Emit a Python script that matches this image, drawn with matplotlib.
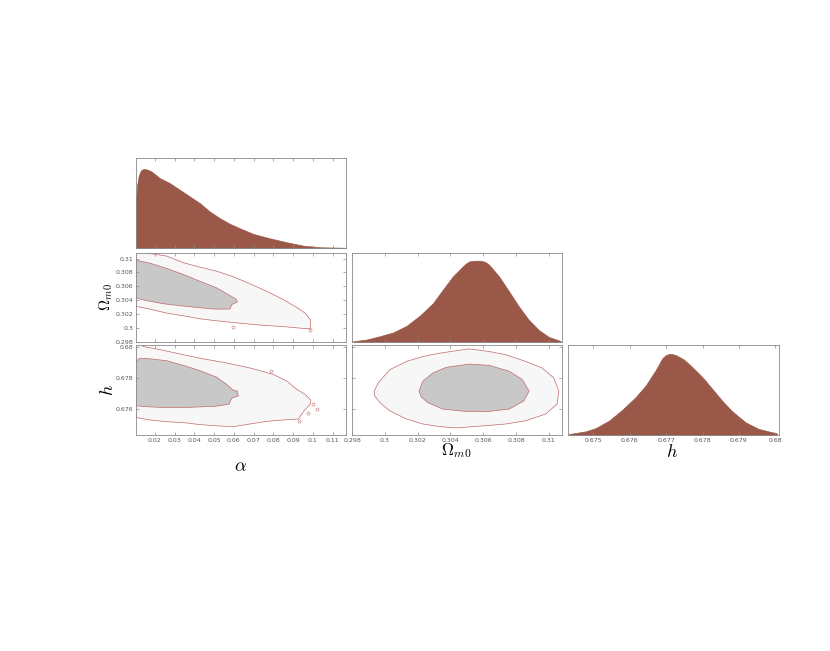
import numpy as np
import matplotlib.pyplot as plt

plt.rcParams['mathtext.fontset'] = 'cm'

# 1D marginal of alpha
alpha_x = [0.0105, 0.0111, 0.0119, 0.0129, 0.0141, 0.0159, 0.0183, 0.0225, 0.0276, 0.0327,
           0.0378, 0.0428, 0.0479, 0.0530, 0.0581, 0.0631, 0.0699, 0.0782, 0.0869, 0.0953,
           0.1038, 0.1168]
alpha_p = [0.61, 0.80, 0.915, 0.979, 1.0, 0.996, 0.97, 0.886, 0.822, 0.737,
           0.652, 0.568, 0.461, 0.377, 0.305, 0.25, 0.178, 0.123, 0.072, 0.029,
           0.009, 0.003]

# 1D marginal of Omega_m0
om_x = [0.29808, 0.29889, 0.2997, 0.3005, 0.30132, 0.30212, 0.30293, 0.30353, 0.30414, 0.30475,
        0.30495, 0.30515, 0.30545, 0.30586, 0.30612, 0.30636, 0.30697, 0.30758, 0.30818, 0.30879,
        0.3094, 0.31, 0.31071]
om_p = [0.009, 0.03, 0.071, 0.117, 0.198, 0.322, 0.476, 0.641, 0.805, 0.929,
        0.966, 0.991, 1.0, 1.0, 0.985, 0.95, 0.805, 0.62, 0.434, 0.269,
        0.145, 0.062, 0.012]

# 1D marginal of h
h_x = [0.67433, 0.67479, 0.67507, 0.67543, 0.67579, 0.67616, 0.67644, 0.67671, 0.67689, 0.67698,
       0.67707, 0.67716, 0.67726, 0.67748, 0.67771, 0.67799, 0.67826, 0.67853, 0.67881, 0.67918,
       0.67954, 0.68004]
h_p = [0.012, 0.045, 0.087, 0.178, 0.311, 0.468, 0.614, 0.801, 0.946, 0.985,
       1.0, 1.0, 0.988, 0.934, 0.842, 0.717, 0.573, 0.427, 0.294, 0.157,
       0.075, 0.02]

# alpha - Omega_m0 contours (95% outer, 68% inner)
ao_out_a = [0.0105, 0.0124, 0.0175, 0.0259, 0.0344, 0.0428, 0.0513, 0.0598, 0.0682, 0.0767,
            0.0851, 0.0919, 0.0961, 0.0987, 0.0990, 0.0936, 0.0851, 0.0767, 0.0682, 0.0598,
            0.0513, 0.0428, 0.0344, 0.0259, 0.0175, 0.0105]
ao_out_o = [0.3116, 0.31109, 0.31072, 0.31037, 0.30941, 0.30877, 0.30819, 0.30738, 0.30637, 0.30529,
            0.30409, 0.30297, 0.30216, 0.30119, 0.29989, 0.29999, 0.30022, 0.30036, 0.30057, 0.3008,
            0.30105, 0.30134, 0.30177, 0.30216, 0.30274, 0.30312]
ao_in_a = [0.0105, 0.0175, 0.0259, 0.0344, 0.0428, 0.0513, 0.0572, 0.0611, 0.0618, 0.0589,
           0.0581, 0.0496, 0.0412, 0.0327, 0.0242, 0.0158, 0.0105]
ao_in_o = [0.30975, 0.30935, 0.30859, 0.30772, 0.30674, 0.30579, 0.30482, 0.30419, 0.30376, 0.30337,
           0.30274, 0.30274, 0.30297, 0.30322, 0.30351, 0.30395, 0.30434]
ao_isl_a = [0.0985, 0.0597]
ao_isl_o = [0.29975, 0.30022]

# alpha - h contours
ah_out_a = [0.0105, 0.0141, 0.0209, 0.0310, 0.0428, 0.0564, 0.0682, 0.0801, 0.0869, 0.0919,
            0.0961, 0.0990, 0.0985, 0.0955, 0.0927, 0.0851, 0.0767, 0.0682, 0.0598, 0.0513,
            0.0428, 0.0344, 0.0259, 0.0175, 0.0105]
ah_out_h = [0.68064, 0.68, 0.67985, 0.67957, 0.67925, 0.67894, 0.67862, 0.6782, 0.67777, 0.67724,
            0.67692, 0.67655, 0.67625, 0.67585, 0.67533, 0.67527, 0.67518, 0.67501, 0.67484, 0.67489,
            0.67497, 0.6751, 0.67516, 0.67527, 0.67543]
ah_in_a = [0.0105, 0.0124, 0.0175, 0.0259, 0.0344, 0.0428, 0.0513, 0.0564, 0.0598, 0.0618,
           0.0623, 0.0589, 0.0577, 0.0513, 0.0428, 0.0344, 0.0259, 0.0175, 0.0105]
ah_in_h = [0.67904, 0.67925, 0.67921, 0.67909, 0.67879, 0.67845, 0.67803, 0.67756, 0.67718, 0.67713,
           0.67682, 0.67667, 0.67629, 0.67616, 0.67611, 0.67607, 0.67607, 0.67611, 0.67618]
ah_isl_a = [0.1003, 0.1021, 0.0978, 0.0932, 0.0790]
ah_isl_h = [0.67629, 0.67597, 0.67571, 0.67518, 0.67840]

# Omega_m0 - h contours
oh_out_o = [0.29935, 0.2996, 0.3003, 0.30132, 0.30232, 0.30333, 0.30435, 0.30515, 0.30636, 0.30738,
            0.30859, 0.30959, 0.3103, 0.31061, 0.3105, 0.3098, 0.30859, 0.30738, 0.30616, 0.30435,
            0.30333, 0.30232, 0.30132, 0.3003, 0.2997, 0.29939]
oh_out_h = [0.67713, 0.67766, 0.67851, 0.67904, 0.67936, 0.67957, 0.67973, 0.67985, 0.67968, 0.67947,
            0.67904, 0.67862, 0.67798, 0.67713, 0.67629, 0.67565, 0.67522, 0.67501, 0.6749, 0.67476,
            0.67484, 0.67501, 0.67533, 0.67586, 0.67639, 0.67682]
oh_in_o = [0.30208, 0.30232, 0.30293, 0.30374, 0.30515, 0.30636, 0.30758, 0.30838, 0.30879, 0.30848,
           0.30758, 0.30616, 0.30495, 0.30353, 0.30262, 0.30222]
oh_in_h = [0.67713, 0.67777, 0.6783, 0.67866, 0.67887, 0.67879, 0.67841, 0.67788, 0.67713, 0.6765,
           0.67597, 0.6758, 0.67582, 0.67597, 0.67639, 0.67675]

alpha_lim = (0.0105, 0.1168)
om_lim = (0.298, 0.3108)
h_lim = (0.6743, 0.6801)

alpha_ticks = [0.02, 0.03, 0.04, 0.05, 0.06, 0.07, 0.08, 0.09, 0.1, 0.11]
alpha_labels = ['0.02', '0.03', '0.04', '0.05', '0.06', '0.07', '0.08', '0.09', '0.1', '0.11']
om_ticks = [0.298, 0.3, 0.302, 0.304, 0.306, 0.308, 0.31]
om_labels = ['0.298', '0.3', '0.302', '0.304', '0.306', '0.308', '0.31']
h_ticks = [0.675, 0.676, 0.677, 0.678, 0.679, 0.68]
h_labels = ['0.675', '0.676', '0.677', '0.678', '0.679', '0.68']
h2_ticks = [0.676, 0.678, 0.68]
h2_labels = ['0.676', '0.678', '0.68']

BROWN = '#9a5849'
INNER = '#c8c8c8'
OUTER = '#f7f7f7'
EDGE = '#c06a6a'

fig = plt.figure(figsize=(8.3, 6.51), dpi=100)

def panel(x0, y0, x1, y1):
    ax = fig.add_axes([x0 / 830, 1 - y1 / 651, (x1 - x0) / 830, (y1 - y0) / 651])
    for s in ax.spines.values():
        s.set_color('#8a8a8a')
        s.set_linewidth(0.6)
    ax.tick_params(direction='in', length=2.5, width=0.5, colors='#8a8a8a',
                   labelcolor='#555555', labelsize=4.5, top=True, right=True, pad=2)
    return ax

def marginal(ax, x, p, lim, ymax):
    ax.fill_between(x, 0, p, color=BROWN, lw=0.5)
    ax.set_xlim(lim)
    ax.set_ylim(0, ymax)
    ax.set_yticks([])

def joint(ax, ox, oy, ix, iy, xlim, ylim):
    ax.fill(ox, oy, facecolor=OUTER, edgecolor=EDGE, lw=0.5)
    ax.fill(ix, iy, facecolor=INNER, edgecolor=EDGE, lw=0.5)
    ax.set_xlim(xlim)
    ax.set_ylim(ylim)

def islands(ax, x, y):
    ax.plot(x, y, 'o', ms=2.2, mfc='none', mec=EDGE, mew=0.4)

# row 1
ax1 = panel(136, 158, 346, 248)
marginal(ax1, alpha_x, alpha_p, alpha_lim, 1.14)
ax1.set_xticks(alpha_ticks)
ax1.set_xticklabels([])

# row 2
ax2 = panel(136, 253, 346, 342)
joint(ax2, ao_out_a, ao_out_o, ao_in_a, ao_in_o, alpha_lim, om_lim)
islands(ax2, ao_isl_a, ao_isl_o)
ax2.set_xticks(alpha_ticks)
ax2.set_xticklabels([])
ax2.set_yticks(om_ticks)
ax2.set_yticklabels(om_labels)

ax3 = panel(352, 253, 562, 342)
marginal(ax3, om_x, om_p, om_lim, 1.095)
ax3.set_xticks(om_ticks)
ax3.set_xticklabels([])

# row 3
ax4 = panel(136, 345, 346, 435)
joint(ax4, ah_out_a, ah_out_h, ah_in_a, ah_in_h, alpha_lim, h_lim)
islands(ax4, ah_isl_a, ah_isl_h)
ax4.set_xticks(alpha_ticks)
ax4.set_xticklabels(alpha_labels)
ax4.set_yticks(h2_ticks)
ax4.set_yticklabels(h2_labels)

ax5 = panel(352, 345, 562, 435)
joint(ax5, oh_out_o, oh_out_h, oh_in_o, oh_in_h, om_lim, h_lim)
ax5.set_xticks(om_ticks)
ax5.set_xticklabels(om_labels)
ax5.set_yticks(h2_ticks)
ax5.set_yticklabels([])

ax6 = panel(568, 345, 779, 435)
marginal(ax6, h_x, h_p, h_lim, 1.112)
ax6.set_xticks(h_ticks)
ax6.set_xticklabels(h_labels)

# axis labels
fig.text(240 / 830, 1 - 466 / 651, r'$\alpha$', fontsize=13, ha='center', va='center')
fig.text(456 / 830, 1 - 451 / 651, r'$\Omega_{m0}$', fontsize=12, ha='center', va='center')
fig.text(672 / 830, 1 - 452 / 651, r'$h$', fontsize=13, ha='center', va='center')
fig.text(106 / 830, 1 - 297 / 651, r'$\Omega_{m0}$', fontsize=11, ha='center', va='center', rotation=90)
fig.text(108 / 830, 1 - 390 / 651, r'$h$', fontsize=13, ha='center', va='center', rotation=90)

fig.savefig('out.png', dpi=100)
